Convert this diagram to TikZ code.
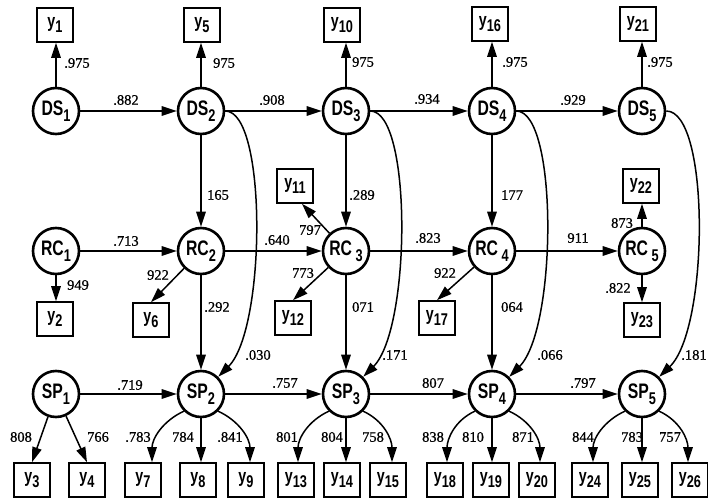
\documentclass[tikz,border=0pt]{standalone}
\usepackage{fontspec}
\setmainfont{Liberation Serif}
\newfontfamily\lvfont[FakeStretch=0.75]{Liberation Sans}
\newfontfamily\coeffont[FakeBold=0.8]{Liberation Serif}
\usepackage{tikz}
\usetikzlibrary{
	arrows.meta,
	calc
}
\newcommand{\lvsub}[1]{\raisebox{-0.55ex}{\fontsize{17}{17}\selectfont #1}}

\begin{document}
\begin{tikzpicture}[
    x=1pt, y=1pt,
    latent/.style={circle, draw, line width=2.6pt, minimum size=46pt, inner sep=0pt, font=\lvfont\bfseries\fontsize{21}{21}\selectfont},
    manifest/.style={rectangle, draw, line width=1.6pt, minimum width=36pt, minimum height=34pt, inner sep=0pt, font=\lvfont\bfseries\fontsize{19}{19}\selectfont},
    coef/.style={inner sep=0pt, font=\coeffont\fontsize{14.5}{14.5}\selectfont},
    arrow/.style={line width=1.5pt,->,>={Triangle[length=15pt,width=9.5pt]}}
]
\useasboundingbox (0,0) rectangle (708,498);

% Latent variables
\node[latent] (DS1) at (56,387) {DS\lvsub{1}};
\node[latent] (DS2) at (201,387) {DS\lvsub{2}};
\node[latent] (DS3) at (346,387) {DS\lvsub{3}};
\node[latent] (DS4) at (492,387) {DS\lvsub{4}};
\node[latent] (DS5) at (642,387) {DS\lvsub{5}};

\node[latent] (RC1) at (56,247) {RC\lvsub{1}};
\node[latent] (RC2) at (201,247) {RC\lvsub{2}};
\node[latent] (RC3) at (346,247) {RC\,\lvsub{3}};
\node[latent] (RC4) at (492,247) {RC\,\lvsub{4}};
\node[latent] (RC5) at (642,247) {RC\,\lvsub{5}};

\node[latent] (SP1) at (56,104) {SP\lvsub{1}};
\node[latent] (SP2) at (201,104) {SP\lvsub{2}};
\node[latent] (SP3) at (346,104) {SP\lvsub{3}};
\node[latent] (SP4) at (492,104) {SP\lvsub{4}};
\node[latent] (SP5) at (642,104) {SP\lvsub{5}};

% Indicators, top row
\node[manifest] (y1) at (55,473) {y\lvsub{1}};
\node[manifest] (y5) at (202,473) {y\lvsub{5}};
\node[manifest] (y10) at (342,473) {y\lvsub{10}};
\node[manifest] (y16) at (490,474) {y\lvsub{16}};
\node[manifest] (y21) at (638,474) {y\lvsub{21}};

% Indicators, middle row
\node[manifest] (y2) at (55,179) {y\lvsub{2}};
\node[manifest] (y6) at (151,178) {y\lvsub{6}};
\node[manifest] (y11) at (295,312) {y\lvsub{11}};
\node[manifest] (y12) at (293,180) {y\lvsub{12}};
\node[manifest] (y17) at (437,180) {y\lvsub{17}};
\node[manifest] (y22) at (641,312) {y\lvsub{22}};
\node[manifest] (y23) at (642,178) {y\lvsub{23}};

% Indicators, bottom row
\node[manifest] (y3) at (32,18) {y\lvsub{3}};
\node[manifest] (y4) at (87,18) {y\lvsub{4}};
\node[manifest] (y7) at (143,18) {y\lvsub{7}};
\node[manifest] (y8) at (198,18) {y\lvsub{8}};
\node[manifest] (y9) at (246,18) {y\lvsub{9}};
\node[manifest] (y13) at (296,18) {y\lvsub{13}};
\node[manifest] (y14) at (342,18) {y\lvsub{14}};
\node[manifest] (y15) at (388,18) {y\lvsub{15}};
\node[manifest] (y18) at (445,18) {y\lvsub{18}};
\node[manifest] (y19) at (491,18) {y\lvsub{19}};
\node[manifest] (y20) at (537,18) {y\lvsub{20}};
\node[manifest] (y24) at (590,18) {y\lvsub{24}};
\node[manifest] (y25) at (640,18) {y\lvsub{25}};
\node[manifest] (y26) at (690,18) {y\lvsub{26}};

% Loadings, DS
\draw[arrow] (DS1) -- (DS1 |- y1.south);
\draw[arrow] (DS2) -- (DS2 |- y5.south);
\draw[arrow] (DS3) -- (DS3 |- y10.south);
\draw[arrow] (DS4) -- (DS4 |- y16.south);
\draw[arrow] (DS5) -- (DS5 |- y21.south);

% Loadings, RC
\draw[arrow] (RC1) -- (RC1 |- y2.north);
\draw[arrow] (RC2) -- (y6.north);
\draw[arrow] (RC3) -- ([xshift=7pt]y11.south);
\draw[arrow] (RC3) -- (y12.north);
\draw[arrow] (RC4) -- (y17.north);
\draw[arrow] (RC5) -- (RC5 |- y22.south);
\draw[arrow] (RC5) -- (RC5 |- y23.north);

% Loadings, SP
\draw[arrow] (SP1) -- (y3.north);
\draw[arrow] (SP1) -- (y4.north);
\draw[arrow] (SP2.225) to[out=205, in=90] ([xshift=9pt]y7.north);
\draw[arrow] (SP2) -- (SP2 |- y8.north);
\draw[arrow] (SP2.-45) to[out=-25, in=90] ([xshift=4pt]y9.north);
\draw[arrow] (SP3.225) to[out=205, in=90] ([xshift=2pt]y13.north);
\draw[arrow] (SP3) -- (SP3 |- y14.north);
\draw[arrow] (SP3.-45) to[out=-25, in=90] ([xshift=4pt]y15.north);
\draw[arrow] (SP4.225) to[out=205, in=90] ([xshift=2pt]y18.north);
\draw[arrow] (SP4) -- (SP4 |- y19.north);
\draw[arrow] (SP4.-45) to[out=-25, in=90] ([xshift=3pt]y20.north);
\draw[arrow] (SP5.225) to[out=205, in=90] ([xshift=3pt]y24.north);
\draw[arrow] (SP5) -- (SP5 |- y25.north);
\draw[arrow] (SP5.-45) to[out=-25, in=90] ([xshift=-2pt]y26.north);

% Stability paths
\draw[arrow] (DS1) -- (DS2);
\draw[arrow] (DS2) -- (DS3);
\draw[arrow] (DS3) -- (DS4);
\draw[arrow] (DS4) -- (DS5);
\draw[arrow] (RC1) -- (RC2);
\draw[arrow] (RC2) -- (RC3);
\draw[arrow] (RC3) -- (RC4);
\draw[arrow] (RC4) -- (RC5);
\draw[arrow] (SP1) -- (SP2);
\draw[arrow] (SP2) -- (SP3);
\draw[arrow] (SP3) -- (SP4);
\draw[arrow] (SP4) -- (SP5);

% Cross paths
\draw[arrow] (DS2) -- (RC2);
\draw[arrow] (DS3) -- (RC3);
\draw[arrow] (DS4) -- (RC4);
\draw[arrow] (RC2) -- (SP2);
\draw[arrow] (RC3) -- (SP3);
\draw[arrow] (RC4) -- (SP4);
\draw[arrow] (DS2.east) .. controls +(42,0) and +(48,48) .. (SP2.45);
\draw[arrow] (DS3.east) .. controls +(42,0) and +(48,48) .. (SP3.45);
\draw[arrow] (DS4.east) .. controls +(42,0) and +(48,48) .. (SP4.45);
\draw[arrow] (DS5.east) .. controls +(44,0) and +(50,48) .. (SP5.45);

% Coefficients
\node[coef] at (77,435) {.975};
\node[coef] at (224,435) {975};
\node[coef] at (363,436) {975};
\node[coef] at (515,436) {.975};
\node[coef] at (660,436) {.975};
\node[coef] at (126,398) {.882};
\node[coef] at (272,398) {.908};
\node[coef] at (427,399) {.934};
\node[coef] at (573,398) {.929};
\node[coef] at (218,303) {165};
\node[coef] at (362,303) {.289};
\node[coef] at (512,303) {177};
\node[coef] at (258,143) {.030};
\node[coef] at (395,143) {.171};
\node[coef] at (550,143) {.066};
\node[coef] at (694,143) {.181};
\node[coef] at (126,257) {.713};
\node[coef] at (78,213) {949};
\node[coef] at (158,223) {922};
\node[coef] at (277,258) {.640};
\node[coef] at (310,268) {797};
\node[coef] at (303,225) {773};
\node[coef] at (428,260) {.823};
\node[coef] at (445,225) {922};
\node[coef] at (578,260) {911};
\node[coef] at (622,275) {873};
\node[coef] at (618,210) {.822};
\node[coef] at (217,191) {.292};
\node[coef] at (363,191) {071};
\node[coef] at (512,191) {064};
\node[coef] at (130,113) {.719};
\node[coef] at (285,115) {.757};
\node[coef] at (433,115) {807};
\node[coef] at (583,115) {.797};
\node[coef] at (21,61) {808};
\node[coef] at (98,61) {766};
\node[coef] at (138,61) {.783};
\node[coef] at (183,61) {784};
\node[coef] at (230,61) {.841};
\node[coef] at (287,61) {801};
\node[coef] at (332,61) {804};
\node[coef] at (373,61) {758};
\node[coef] at (433,61) {838};
\node[coef] at (473,61) {810};
\node[coef] at (523,61) {871};
\node[coef] at (583,61) {844};
\node[coef] at (632,61) {783};
\node[coef] at (670,61) {757};

\end{tikzpicture}
\end{document}
